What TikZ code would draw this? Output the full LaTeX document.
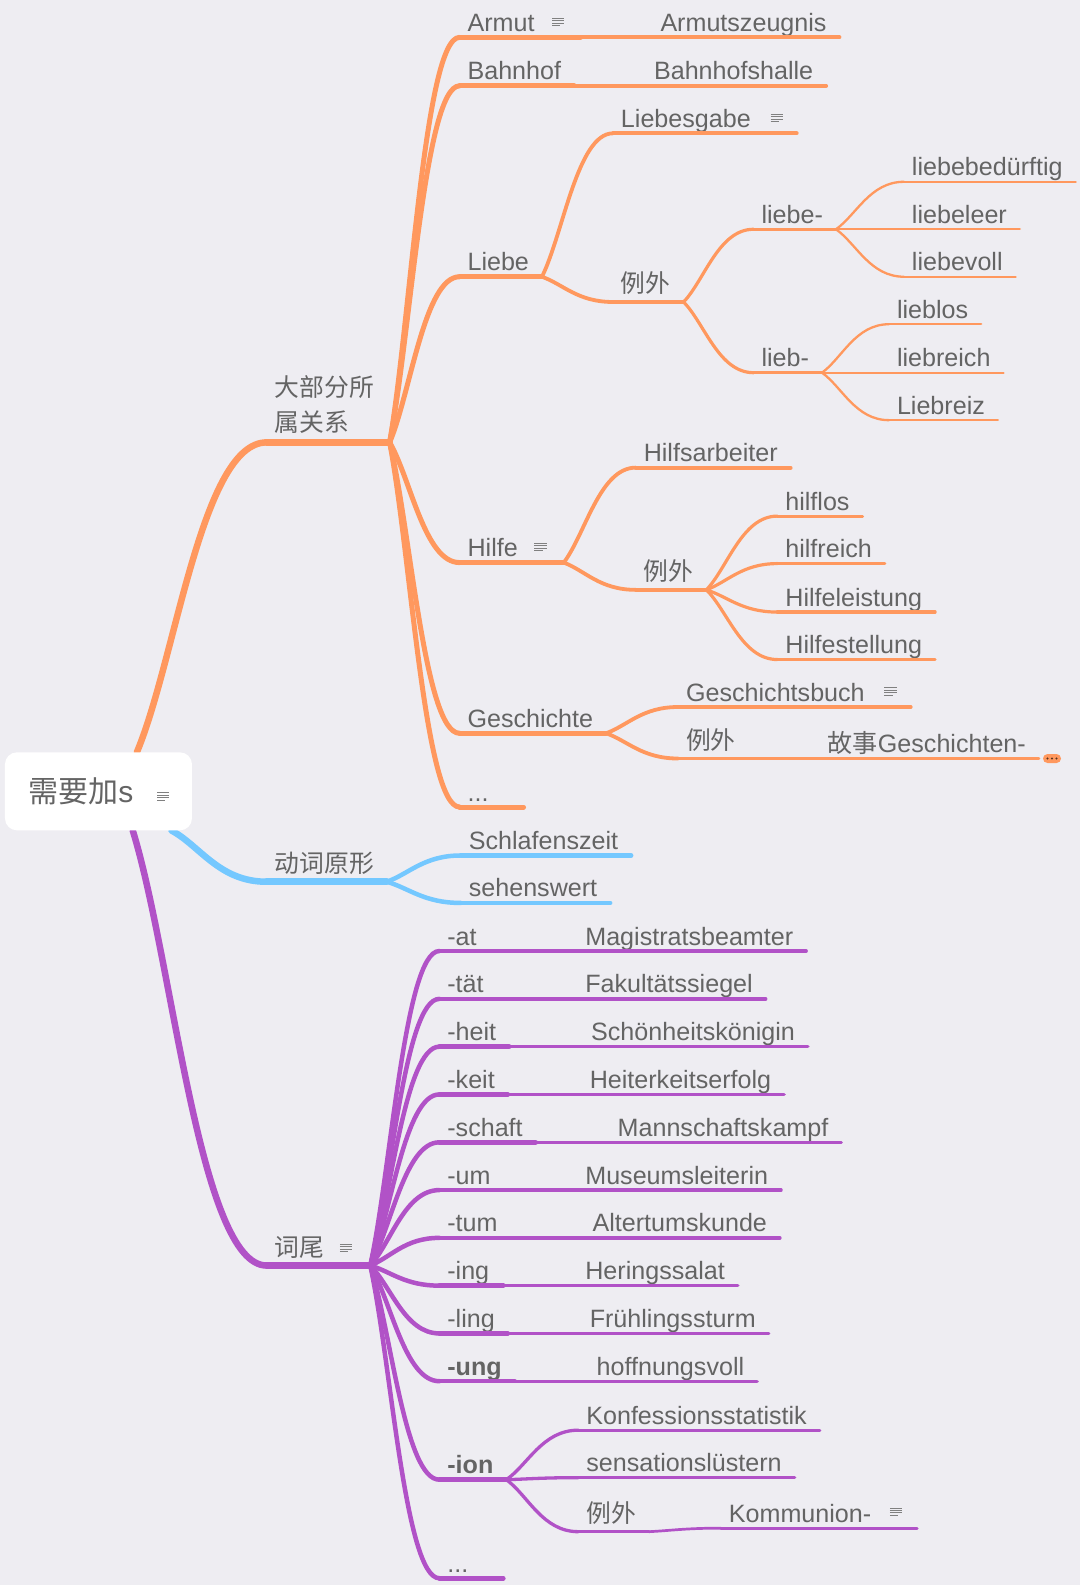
\documentclass[tikz,border=0pt]{standalone}
\usepackage{fontspec}
\setmainfont{Liberation Sans}
\newfontfamily\cjk{Noto Sans CJK SC}
\usepackage{tikz}
\usetikzlibrary{calc,positioning}
\definecolor{mmorange}{RGB}{255,152,94}
\definecolor{mmblue}{RGB}{116,200,255}
\definecolor{mmpurple}{RGB}{177,82,199}
\definecolor{mmback}{RGB}{238,237,242}
\definecolor{mmtext}{RGB}{100,100,100}
\definecolor{mmicon}{RGB}{128,128,128}
\definecolor{mmdot}{RGB}{90,50,30}
\pgfdeclarelayer{bg}
\pgfsetlayers{bg,main}
\newcommand{\branch}[3][]{\draw[#1] (#2) .. controls ($(#2)!0.3!(#3)$) and ($(#3)!0.5!(#2 |- #3)$) .. (#3);}
\newcommand{\notegap}{\hspace{33pt}\null}
\tikzset{
  uline/.style 2 args={append after command={(\tikzlastnode.south west) edge[draw=#1, line width=#2, line cap=round] (\tikzlastnode.south east)}},
  noteicon/.pic={
    \draw[mmicon, line width=0.9pt] (0,0) -- (12,0) (0,2.4) -- (12,2.4) (0,4.8) -- (12,4.8) (0,7.2) -- (8,7.2);
  }
}

\begin{document}
\begin{tikzpicture}[x=1.01pt, y=-1.01pt]
        \tikzstyle{topic}=[anchor=south west, inner xsep=8pt, inner ysep=6pt, outer sep=0pt, text depth=0pt, text=mmtext, font=\fontsize{25.1}{35}\selectfont, execute at end node={\hspace{5pt}\null}]
        \tikzstyle{zh}=[inner ysep=9pt, font=\cjk\fontsize{24.8}{35}\selectfont]
        \tikzstyle{minw}=[text width=48pt, align=left]
        \tikzstyle{rootbox}=[fill=white, rounded corners=12pt, minimum width=187pt, minimum height=78pt, inner sep=0pt, text=mmtext, font=\fontsize{30}{36}\selectfont]
        \tikzstyle{pill}=[fill=mmorange, rounded corners=4.5pt, minimum width=18pt, minimum height=9pt, inner sep=0pt]
        \tikzstyle{oone}=[topic, uline={mmorange}{6.5pt}]
        \tikzstyle{otwo}=[topic, uline={mmorange}{5pt}]
        \tikzstyle{othree}=[topic, uline={mmorange}{3.8pt}]
        \tikzstyle{ofour}=[topic, uline={mmorange}{3.2pt}]
        \tikzstyle{ofive}=[topic, uline={mmorange}{2.3pt}]
        \tikzstyle{bone}=[topic, uline={mmblue}{6.5pt}]
        \tikzstyle{btwo}=[topic, uline={mmblue}{4.5pt}]
        \tikzstyle{pone}=[topic, uline={mmpurple}{6.5pt}]
        \tikzstyle{ptwo}=[topic, uline={mmpurple}{4.5pt}]
        \tikzstyle{pthree}=[topic, uline={mmpurple}{3.3pt}]
        \tikzstyle{olink}=[draw=mmorange, line cap=round]
        \tikzstyle{blink}=[draw=mmblue, line cap=round]
        \tikzstyle{plink}=[draw=mmpurple, line cap=round]

        % Canvas
        \useasboundingbox (0,0) rectangle (1069.3,1569.3);
        \begin{pgfonlayer}{bg}
            \fill[mmback] (0,0) rectangle (1069.3,1569.3);
        \end{pgfonlayer}

        % Central topic
        \node[rootbox] (root) at (97.5,783.5) {{\cjk 需要加}s\hspace{35pt}\null};
        \pic at ($(root.east)+(-34.7,1.5)$) {noteicon};
        \coordinate (rootup) at ($(root.north west)!0.705!(root.north east)$);
        \coordinate (rootdown) at ($(root.south west)!0.683!(root.south east)$);
        \coordinate (rootside) at ($(root.south west)!0.89!(root.south east)$);

        % Main branches
        \node[oone, zh, text width=107pt, align=left, text depth=35pt, inner ysep=11pt] (most) at (264,438) {大部分所\\属关系};
        \node[bone, zh] (verb) at (264,873) {动词原形};
        \node[pone, zh] (suffix) at (264,1253) {词尾\notegap};
        \pic at ($(suffix.south east)+(-30,-21)$) {noteicon};
        \begin{pgfonlayer}{bg}
            \branch[olink, line width=6.5pt]{rootup}{most.south west}
            \branch[blink, line width=6.5pt]{rootside}{verb.south west}
            \branch[plink, line width=6.5pt]{rootdown}{suffix.south west}
        \end{pgfonlayer}

        % Orange branch: second level
        \node[otwo] (armut) at (455,37) {Armut\notegap};
        \pic at ($(armut.south east)+(-28,-19)$) {noteicon};
        \node[otwo] (bahnhof) at (455,85) {Bahnhof};
        \node[otwo] (liebe) at (455,274) {Liebe};
        \node[otwo] (hilfe) at (455,557) {Hilfe\notegap};
        \pic at ($(hilfe.south east)+(-29,-19)$) {noteicon};
        \node[otwo] (gesch) at (455,726) {Geschichte};
        \node[otwo, minw] (omore) at (455,799) {...};
        \branch[olink, line width=5pt]{most.south east}{armut.south west}
        \branch[olink, line width=5pt]{most.south east}{bahnhof.south west}
        \branch[olink, line width=5pt]{most.south east}{liebe.south west}
        \branch[olink, line width=5pt]{most.south east}{hilfe.south west}
        \branch[olink, line width=5pt]{most.south east}{gesch.south west}
        \branch[olink, line width=5pt]{most.south east}{omore.south west}

        % Armut, Bahnhof
        \node[othree, xshift=72pt] (armutz) at (armut.south east |- 0,37) {Armutszeugnis};
        \node[othree, xshift=72pt] (halle) at (bahnhof.south east |- 0,85) {Bahnhofshalle};
        \draw[olink, line width=3.8pt] (armut.south east) -- (armutz.south west);
        \draw[olink, line width=3.8pt] (bahnhof.south east) -- (halle.south west);

        % Liebe
        \node[othree, xshift=71pt] (gabe) at (liebe.south east |- 0,132) {Liebesgabe\notegap};
        \pic at ($(gabe.south east)+(-26,-19)$) {noteicon};
        \node[othree, zh, xshift=71pt] (lex) at (liebe.south east |- 0,299) {例外};
        \branch[olink, line width=3.8pt]{liebe.south east}{gabe.south west}
        \branch[olink, line width=3.8pt]{liebe.south east}{lex.south west}
        \node[ofour, xshift=70pt] (lbe) at (lex.south east |- 0,227) {liebe-};
        \node[ofour, xshift=70pt] (lb) at (lex.south east |- 0,369) {lieb-};
        \branch[olink, line width=3.2pt]{lex.south east}{lbe.south west}
        \branch[olink, line width=3.2pt]{lex.south east}{lb.south west}
        \node[ofive, xshift=68pt] (lbea) at (lbe.south east |- 0,180) {liebebedürftig};
        \node[ofive, xshift=68pt] (lbeb) at (lbe.south east |- 0,227) {liebeleer};
        \node[ofive, xshift=68pt] (lbec) at (lbe.south east |- 0,274) {liebevoll};
        \branch[olink, line width=2.3pt]{lbe.south east}{lbea.south west}
        \draw[olink, line width=2.3pt] (lbe.south east) -- (lbeb.south west);
        \branch[olink, line width=2.3pt]{lbe.south east}{lbec.south west}
        \node[ofive, xshift=67pt] (lba) at (lb.south east |- 0,321) {lieblos};
        \node[ofive, xshift=67pt] (lbb) at (lb.south east |- 0,369) {liebreich};
        \node[ofive, xshift=67pt] (lbc) at (lb.south east |- 0,416) {Liebreiz};
        \branch[olink, line width=2.3pt]{lb.south east}{lba.south west}
        \draw[olink, line width=2.3pt] (lb.south east) -- (lbb.south west);
        \branch[olink, line width=2.3pt]{lb.south east}{lbc.south west}

        % Hilfe
        \node[othree, xshift=72pt] (arbeiter) at (hilfe.south east |- 0,463) {Hilfsarbeiter};
        \node[othree, zh, xshift=72pt] (hex) at (hilfe.south east |- 0,584) {例外};
        \branch[olink, line width=3.8pt]{hilfe.south east}{arbeiter.south west}
        \branch[olink, line width=3.8pt]{hilfe.south east}{hex.south west}
        \node[ofour, xshift=71pt] (hila) at (hex.south east |- 0,511) {hilflos};
        \node[ofour, xshift=71pt] (hilb) at (hex.south east |- 0,558) {hilfreich};
        \node[ofour, xshift=71pt] (hilc) at (hex.south east |- 0,606) {Hilfeleistung};
        \node[ofour, xshift=71pt] (hild) at (hex.south east |- 0,653) {Hilfestellung};
        \branch[olink, line width=3.2pt]{hex.south east}{hila.south west}
        \branch[olink, line width=3.2pt]{hex.south east}{hilb.south west}
        \branch[olink, line width=3.2pt]{hex.south east}{hilc.south west}
        \branch[olink, line width=3.2pt]{hex.south east}{hild.south west}

        % Geschichte
        \node[othree, xshift=72pt] (gbuch) at (gesch.south east |- 0,700) {Geschichtsbuch\notegap};
        \pic at ($(gbuch.south east)+(-26,-19)$) {noteicon};
        \node[othree, zh, xshift=72pt] (gex) at (gesch.south east |- 0,751) {例外};
        \branch[olink, line width=3.8pt]{gesch.south east}{gbuch.south west}
        \branch[olink, line width=3.8pt]{gesch.south east}{gex.south west}
        \node[ofour, xshift=71pt] (gstory) at (gex.south east |- 0,751) {{\cjk 故事}Geschichten-};
        \draw[olink, line width=3.2pt] (gex.south east) -- (gstory.south west);
        \node[pill, right=4pt of gstory.south east] (gmore) {};
        \foreach \k in {-4.5,0,4.5} \fill[mmdot] ([xshift=\k pt]gmore.center) circle (1.1pt);

        % Blue branch
        \node[btwo, xshift=74pt] (schlaf) at (verb.south east |- 0,847) {Schlafenszeit};
        \node[btwo, xshift=74pt] (sehens) at (verb.south east |- 0,894) {sehenswert};
        \branch[blink, line width=4.5pt]{verb.south east}{schlaf.south west}
        \branch[blink, line width=4.5pt]{verb.south east}{sehens.south west}

        % Purple branch: suffixes
        \node[ptwo, minw] (sat) at (435,941.6) {-at};
        \node[ptwo, minw] (stat) at (435,989) {-tät};
        \node[ptwo] (sheit) at (435,1036.3) {-heit};
        \node[ptwo] (skeit) at (435,1083.6) {-keit};
        \node[ptwo] (sschaft) at (435,1131) {-schaft};
        \node[ptwo, minw] (sum) at (435,1178.3) {-um};
        \node[ptwo] (stum) at (435,1225.6) {-tum};
        \node[ptwo, minw] (sing) at (435,1272.9) {-ing};
        \node[ptwo] (sling) at (435,1320.2) {-ling};
        \node[ptwo] (sung) at (435,1367.5) {\bfseries -ung};
        \node[ptwo] (sion) at (435,1465) {\bfseries -ion};
        \node[ptwo, minw] (pmore) at (435,1562.6) {...};
        \foreach \s in {sat,stat,sheit,skeit,sschaft,sum,stum,sing,sling,sung,sion,pmore}
            \branch[plink, line width=4.5pt]{suffix.south east}{\s.south west};

        % Purple branch: examples
        \node[pthree, xshift=74pt] (wat) at (sat.south east) {Magistratsbeamter};
        \node[pthree, xshift=74pt] (wtat) at (stat.south east) {Fakultätssiegel};
        \node[pthree, xshift=74pt] (wheit) at (sheit.south east) {Schönheitskönigin};
        \node[pthree, xshift=74pt] (wkeit) at (skeit.south east) {Heiterkeitserfolg};
        \node[pthree, xshift=74pt] (wschaft) at (sschaft.south east) {Mannschaftskampf};
        \node[pthree, xshift=74pt] (wum) at (sum.south east) {Museumsleiterin};
        \node[pthree, xshift=74pt] (wtum) at (stum.south east) {Altertumskunde};
        \node[pthree, xshift=74pt] (wing) at (sing.south east) {Heringssalat};
        \node[pthree, xshift=74pt] (wling) at (sling.south east) {Frühlingssturm};
        \node[pthree, xshift=74pt] (wung) at (sung.south east) {hoffnungsvoll};
        \foreach \s/\w in {sat/wat,stat/wtat,sheit/wheit,skeit/wkeit,sschaft/wschaft,sum/wum,stum/wtum,sing/wing,sling/wling,sung/wung}
            \draw[plink, line width=3.3pt] (\s.south east) -- (\w.south west);

        % -ion
        \node[pthree, xshift=72pt] (iona) at (sion.south east |- 0,1416) {Konfessionsstatistik};
        \node[pthree, xshift=72pt] (ionb) at (sion.south east |- 0,1463) {sensationslüstern};
        \node[pthree, zh, xshift=72pt] (iex) at (sion.south east |- 0,1516.5) {例外};
        \branch[plink, line width=3.3pt]{sion.south east}{iona.south west}
        \branch[plink, line width=3.3pt]{sion.south east}{ionb.south west}
        \branch[plink, line width=3.3pt]{sion.south east}{iex.south west}
        \node[topic, uline={mmpurple}{2.7pt}, xshift=72pt] (komm) at (iex.south east |- 0,1513) {Kommunion-\notegap};
        \pic at ($(komm.south east)+(-27,-20)$) {noteicon};
        \branch[plink, line width=2.7pt]{iex.south east}{komm.south west}
\end{tikzpicture}
\end{document}
